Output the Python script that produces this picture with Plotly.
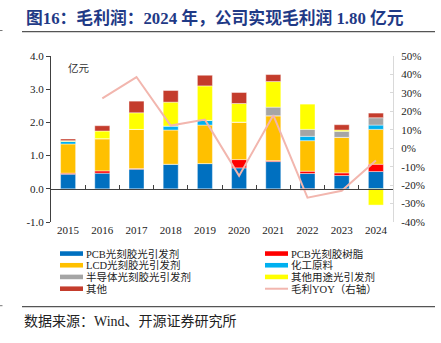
import plotly.graph_objects as go

years = ["2015", "2016", "2017", "2018", "2019", "2020", "2021", "2022", "2023", "2024"]

pcb_init = [0.44, 0.47, 0.59, 0.74, 0.76, 0.63, 0.82, 0.46, 0.40, 0.52]
pcb_resin = [0.03, 0.07, 0.02, 0.00, 0.00, 0.25, 0.03, 0.07, 0.08, 0.22]
lcd_init = [0.88, 0.97, 1.18, 1.03, 1.16, 1.13, 1.35, 0.92, 1.07, 1.05]
chem_raw = [0.08, 0.00, 0.00, 0.12, 0.14, 0.00, 0.00, 0.13, 0.00, 0.13]
semi_init = [0.00, 0.00, 0.00, 0.00, 0.00, 0.00, 0.26, 0.21, 0.18, 0.22]
other_use = [0.02, 0.23, 0.50, 0.72, 1.04, 0.56, 0.77, 0.76, 0.04, -0.49]
others = [0.05, 0.16, 0.35, 0.35, 0.32, 0.33, 0.21, -0.04, 0.16, 0.14]

yoy = [None, 27.0, 38.6, 12.3, 15.5, -15.0, 17.9, -26.8, -23.1, -6.7]

series_names = ["PCB光刻胶光引发剂", "PCB光刻胶树脂", "LCD光刻胶光引发剂", "化工原料",
                "半导体光刻胶光引发剂", "其他用途光引发剂", "其他"]
series_vals = [pcb_init, pcb_resin, lcd_init, chem_raw, semi_init, other_use, others]
series_colors = ["#0070C0", "#FF0000", "#FFC000", "#00B0F0", "#A5A5A5", "#FFFF00", "#C43C2C"]
line_name = "毛利YOY（右轴）"
line_color = "#F2B6AE"

right_ticks = [-40, -30, -20, -10, 0, 10, 20, 30, 40, 50]
left_ticks = [-1, 0, 1, 2, 3, 4]

title_text = "图16：毛利润：2024 年，公司实现毛利润 1.80 亿元"
source_text = "数据来源：Wind、开源证券研究所"
unit_text = "亿元"

W, H = 441, 343
L, R, T, B = 51, 393, 55.5, 221.7
FONT = "Liberation Serif, Noto Sans CJK SC, serif"


def px(xp):
    return (xp - L) / (R - L)


def py(yp):
    return (B - yp) / (B - T)


fig = go.Figure()
for name, vals, col in zip(series_names, series_vals, series_colors):
    fig.add_trace(go.Bar(
        x=years, y=vals, name=name, marker_color=col,
        marker_line=dict(width=0.6, color="rgba(255,255,255,0.7)"),
        width=0.44, showlegend=False, xaxis="x", yaxis="y",
    ))

fig.add_trace(go.Scatter(
    x=years, y=yoy, name=line_name, mode="lines",
    line=dict(color=line_color, width=2), showlegend=False,
    xaxis="x2", yaxis="y2",
))

shapes = []
annotations = []

# manual legend (2 columns x 4 rows)
legend_items = [(n, c, "bar") for n, c in zip(series_names, series_colors)] + [(line_name, line_color, "line")]
col_x = [60, 265]
row_y = [253.3, 265.0, 276.7, 288.5]
for i, (n, c, kind) in enumerate(legend_items):
    r_, c_ = divmod(i, 2)
    x0 = col_x[c_]
    yc = row_y[r_]
    if kind == "bar":
        shapes.append(dict(type="rect", xref="paper", yref="paper",
                           x0=px(x0), x1=px(x0 + 23), y0=py(yc + 2.3), y1=py(yc - 2.3),
                           fillcolor=c, line=dict(width=0)))
    else:
        shapes.append(dict(type="line", xref="paper", yref="paper",
                           x0=px(x0), x1=px(x0 + 23), y0=py(yc), y1=py(yc),
                           line=dict(color=c, width=2)))
    annotations.append(dict(text=n, xref="paper", yref="paper", x=px(x0 + 24), y=py(yc),
                            xanchor="left", yanchor="middle", showarrow=False,
                            font=dict(family=FONT, size=10.5, color="#222222")))

# title, unit, source
annotations.append(dict(text="<b>" + title_text + "</b>", xref="paper", yref="paper",
                        x=px(24), y=py(17), xanchor="left", yanchor="middle", showarrow=False,
                        font=dict(family=FONT, size=16.8, color="#1F3A86")))
annotations.append(dict(text=unit_text, xref="paper", yref="paper",
                        x=px(66), y=py(68), xanchor="left", yanchor="middle", showarrow=False,
                        font=dict(family=FONT, size=10.5, color="#333333")))
annotations.append(dict(text=source_text, xref="paper", yref="paper",
                        x=px(22), y=py(321), xanchor="left", yanchor="middle", showarrow=False,
                        font=dict(family=FONT, size=14, color="#222222")))

# separator lines
for yline in (31, 306.5):
    shapes.append(dict(type="line", xref="paper", yref="paper",
                       x0=px(22), x1=px(435), y0=py(yline), y1=py(yline),
                       line=dict(color="#555555", width=1.2)))
    shapes.append(dict(type="line", xref="paper", yref="paper",
                       x0=px(0), x1=px(2.5), y0=py(yline - 1), y1=py(yline - 1),
                       line=dict(color="#777777", width=1)))

fig.update_layout(
    width=W, height=H,
    margin=dict(l=L, r=W - R, t=T, b=H - B),
    paper_bgcolor="white", plot_bgcolor="white",
    barmode="relative", bargap=0.56,
    font=dict(family=FONT, size=11, color="#222222"),
    shapes=shapes, annotations=annotations, showlegend=False,
    xaxis=dict(type="category", categoryorder="array", categoryarray=years,
               range=[-0.5, 9.5], showline=False, ticks="", showgrid=False,
               zeroline=False, tickfont=dict(family=FONT, size=11, color="#222222"),
               fixedrange=True),
    xaxis2=dict(type="category", categoryorder="array", categoryarray=years,
                range=[-0.5, 9.5], overlaying="x", anchor="free", position=0.2,
                showline=True, linecolor="#404040", linewidth=1,
                ticks="inside", tickson="boundaries", ticklen=4, tickcolor="#404040",
                showticklabels=False, showgrid=False, zeroline=False),
    yaxis=dict(range=[-1, 4], tickvals=left_ticks,
               ticktext=[f"{v:.1f}" for v in left_ticks],
               showline=True, linecolor="#404040", linewidth=1,
               ticks="outside", ticklen=4, tickcolor="#404040",
               showgrid=False, zeroline=False,
               tickfont=dict(family=FONT, size=11, color="#222222")),
    yaxis2=dict(range=[-40, 50], tickvals=right_ticks,
                ticktext=[f"{v}%" for v in right_ticks],
                overlaying="y", side="right", anchor="x2",
                showline=True, linecolor="#D9D9D9", linewidth=1,
                ticks="inside", ticklen=3, tickcolor="#D9D9D9",
                ticklabelstandoff=5,
                showgrid=False, zeroline=False,
                tickfont=dict(family=FONT, size=11, color="#222222")),
)

fig.write_html("out.html")
